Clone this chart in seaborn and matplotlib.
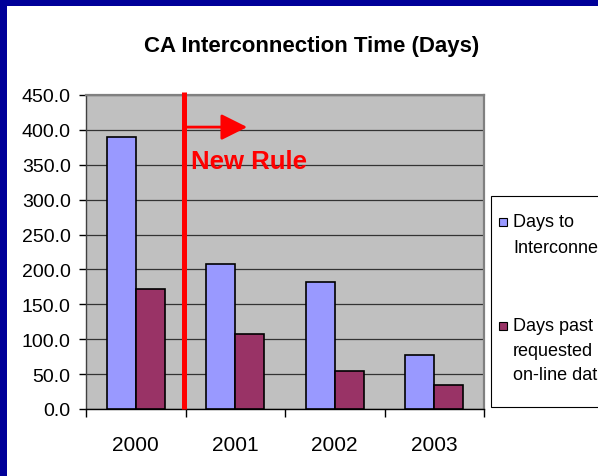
import numpy as np
import pandas as pd
import seaborn as sns
import matplotlib.pyplot as plt
from matplotlib.patches import Rectangle

# chart data
years = ['2000', '2001', '2002', '2003']
days_to_interconnect = [390, 208, 182, 77]
days_past_requested = [172, 107, 55, 34]
series_names = ['Days to\nInterconnect', 'Days past\nrequested\non-line date']
bar_colors = ['#9999FF', '#993366']
y_ticks = np.arange(0, 451, 50)

W, H = 598, 477


def fx(px):
    return px / W


def fy(py):
    return 1 - py / H


def draw_legend(fig):
    """hand-made legend: handle lines up with the first text line"""
    fig.add_artist(Rectangle((fx(491.5), fy(408)), fx(140), (408 - 197) / H,
                             transform=fig.transFigure, facecolor='white',
                             edgecolor='black', lw=0.8))
    baselines = [[227, 253], [331, 356, 380]]
    for name, color, lines in zip(series_names, bar_colors, baselines):
        fig.add_artist(Rectangle((fx(499), fy(lines[0] - 0.5)), 8 / W, 8 / H,
                                 transform=fig.transFigure, facecolor=color,
                                 edgecolor='black', lw=0.8))
        for text, base in zip(name.split('\n'), lines):
            fig.text(fx(513), fy(base), text, fontsize=13, va='baseline',
                     ha='left', family='Liberation Sans')


def main():
    df = pd.DataFrame({
        'year': years * 2,
        'series': [series_names[0]] * len(years) + [series_names[1]] * len(years),
        'days': days_to_interconnect + days_past_requested,
    })

    fig = plt.figure(figsize=(W / 100, H / 100), dpi=100)
    ax = fig.add_axes([fx(86), fy(410), 398 / W, 314 / H])
    ax.set_facecolor('#C0C0C0')

    sns.barplot(data=df, x='year', y='days', hue='series', palette=bar_colors,
                saturation=1, width=0.58, edgecolor='black', linewidth=1.2,
                legend=False, ax=ax, zorder=3)

    ax.set_xlim(-0.5, len(years) - 0.5)
    ax.set_ylim(0, 450)
    ax.set_xlabel('')
    ax.set_ylabel('')

    ax.set_yticks(y_ticks, [f'{v:.1f}' for v in y_ticks],
                  fontsize=14, family='Liberation Sans')
    ax.set_xticks(range(len(years)), years, fontsize=15, family='Liberation Sans')
    ax.set_xticks(np.arange(-0.5, len(years)), minor=True)
    ax.tick_params(axis='x', which='major', length=0, pad=19)
    ax.tick_params(axis='x', which='minor', length=6, width=1, direction='out')
    ax.tick_params(axis='y', length=5, width=1, direction='out', pad=6)

    ax.yaxis.grid(True, color='#333333', lw=0.9, zorder=0)
    ax.set_axisbelow(True)
    for side in ['top', 'right']:
        ax.spines[side].set_color('#808080')
        ax.spines[side].set_linewidth(1.6)
    ax.spines['left'].set_color('#404040')
    ax.spines['left'].set_linewidth(1.0)
    ax.spines['bottom'].set_color('black')
    ax.spines['bottom'].set_linewidth(1.0)

    # "new rule" marker between 2000 and 2001
    rule_x = 0.48
    ax.plot([rule_x, rule_x], [0, 455], color='red', lw=3.6, zorder=5,
            clip_on=False, solid_capstyle='butt')
    ax.annotate('', xy=(1.12, 404), xytext=(rule_x, 404),
                arrowprops=dict(arrowstyle='-|>,head_length=1.0,head_width=0.5',
                                mutation_scale=16, color='red', lw=2.0,
                                shrinkA=0, shrinkB=0),
                annotation_clip=False, zorder=5)
    ax.text(0.56, 345, 'New Rule', color='red', fontsize=18.5,
            fontweight='bold', va='baseline', ha='left',
            family='Liberation Sans', zorder=5)

    fig.text(fx(311.5), fy(52.3), 'CA Interconnection Time (Days)',
             ha='center', va='baseline', fontsize=16, fontweight='bold',
             family='Liberation Sans')

    draw_legend(fig)

    # navy frame on the left and top edges
    fig.add_artist(Rectangle((0, 0), fx(7), 1, transform=fig.transFigure,
                             facecolor='#000099', edgecolor='none'))
    fig.add_artist(Rectangle((0, fy(7)), 1, 7 / H, transform=fig.transFigure,
                             facecolor='#000099', edgecolor='none'))

    fig.savefig('out.png', dpi=100)


if __name__ == '__main__':
    main()
